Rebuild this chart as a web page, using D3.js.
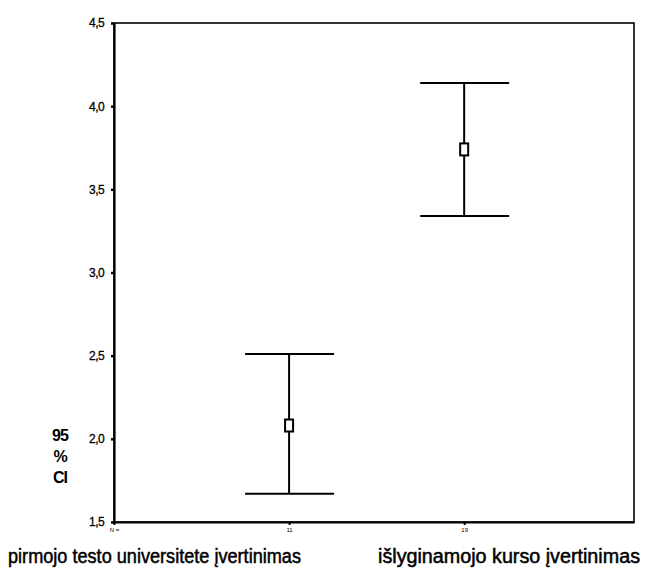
<!DOCTYPE html>
<html>
<head>
<meta charset="utf-8">
<script src="https://cdn.jsdelivr.net/npm/d3@7"></script>
<style>
  body { margin: 0; background: #fff; }
  svg { display: block; font-family: "Liberation Sans", Arial, sans-serif; }
</style>
</head>
<body>
<svg id="chart" width="661" height="576"></svg>
<script>
/* data */
var categories = ["pirmojo testo universitete įvertinimas", "išlyginamojo kurso įvertinimas"];
var means = [2.08, 3.74];
var lower = [1.67, 3.34];
var upper = [2.51, 4.14];
var yTicks = [1.5, 2.0, 2.5, 3.0, 3.5, 4.0, 4.5];
var xTickLabels = ["N =", "11", "19"];   // barely legible in the scan
var yTitle = ["95", "%", "CI"];

var svg = d3.select("#chart"),
    margin = {top: 23, right: 27, bottom: 54, left: 114},
    width = +svg.attr("width") - margin.left - margin.right,
    height = +svg.attr("height") - margin.top - margin.bottom;

var g = svg.append("g")
    .attr("transform", "translate(" + margin.left + "," + margin.top + ")");

/* position 0 is the axis corner, categories sit at 1 and 2 */
var x = d3.scaleLinear().domain([0, 2.97]).range([0, width]);
var y = d3.scaleLinear().domain([1.5, 4.5]).range([height, 0]);

var comma = d3.formatLocale({decimal: ",", thousands: ".", grouping: [3], currency: ["", ""]}).format(".1f");

/* frame */
g.append("rect")
    .attr("width", width)
    .attr("height", height)
    .attr("fill", "none")
    .attr("stroke", "#000")
    .attr("stroke-width", 1.6);

/* y axis */
var yAxis = g.append("g")
    .call(d3.axisLeft(y).tickValues(yTicks).tickSize(3).tickSizeOuter(0).tickPadding(7).tickFormat(comma));
yAxis.select(".domain").attr("stroke-width", 2.2);
yAxis.selectAll(".tick line").attr("stroke-width", 2.5);
yAxis.selectAll("text")
    .attr("font-size", 12)
    .attr("letter-spacing", "-0.6px")
    .attr("fill", "#000")
    .attr("stroke", "#000")
    .attr("stroke-width", 0.3);

/* x axis with tiny tick labels */
var xAxis = g.append("g")
    .attr("transform", "translate(0," + height + ")")
    .call(d3.axisBottom(x).tickValues([0, 1, 2]).tickSize(3).tickSizeOuter(0).tickPadding(3)
      .tickFormat(function(d, i) { return xTickLabels[i]; }));
xAxis.select(".domain").attr("stroke-width", 2.2);
xAxis.selectAll(".tick line").attr("stroke-width", 2);
xAxis.selectAll("text")
    .attr("font-size", 6)
    .attr("fill", "#000");

/* error bars */
var bars = g.selectAll(".ci")
    .data(means.map(function(m, i) { return {i: i, mean: m, lo: lower[i], hi: upper[i]}; }))
    .enter().append("g")
      .attr("class", "ci")
      .attr("transform", function(d) { return "translate(" + x(d.i + 1) + ",0)"; });

bars.append("line")
    .attr("y1", function(d) { return y(d.lo); })
    .attr("y2", function(d) { return y(d.hi); })
    .attr("stroke", "#000")
    .attr("stroke-width", 2);

bars.selectAll(".cap")
    .data(function(d) { return [d.lo, d.hi]; })
    .enter().append("line")
      .attr("class", "cap")
      .attr("x1", -44)
      .attr("x2", 45)
      .attr("y1", function(v) { return y(v); })
      .attr("y2", function(v) { return y(v); })
      .attr("stroke", "#000")
      .attr("stroke-width", 2);

bars.append("rect")
    .attr("x", -4)
    .attr("y", function(d) { return y(d.mean) - 6; })
    .attr("width", 8)
    .attr("height", 12)
    .attr("fill", "#fff")
    .attr("stroke", "#000")
    .attr("stroke-width", 2);

/* "95 % CI" written as a stack on the left */
svg.selectAll(".ytitle")
    .data(yTitle)
    .enter().append("text")
      .attr("class", "ytitle")
      .attr("x", 60)
      .attr("y", function(d, i) { return 441 + i * 21; })
      .attr("text-anchor", "middle")
      .attr("font-size", 16)
      .attr("font-weight", "bold")
      .attr("letter-spacing", "-1px")
      .text(function(d) { return d; });

/* category names, squeezed like in the scan */
var catLabels = [{x: 8, w: 293}, {x: 378, w: 262}];
svg.selectAll(".cat")
    .data(categories)
    .enter().append("text")
      .attr("class", "cat")
      .attr("x", function(d, i) { return catLabels[i].x; })
      .attr("y", 563)
      .attr("font-size", 20)
      .attr("stroke", "#000")
      .attr("stroke-width", 0.5)
      .attr("textLength", function(d, i) { return catLabels[i].w; })
      .attr("lengthAdjust", "spacingAndGlyphs")
      .text(function(d) { return d; });
</script>
</body>
</html>
